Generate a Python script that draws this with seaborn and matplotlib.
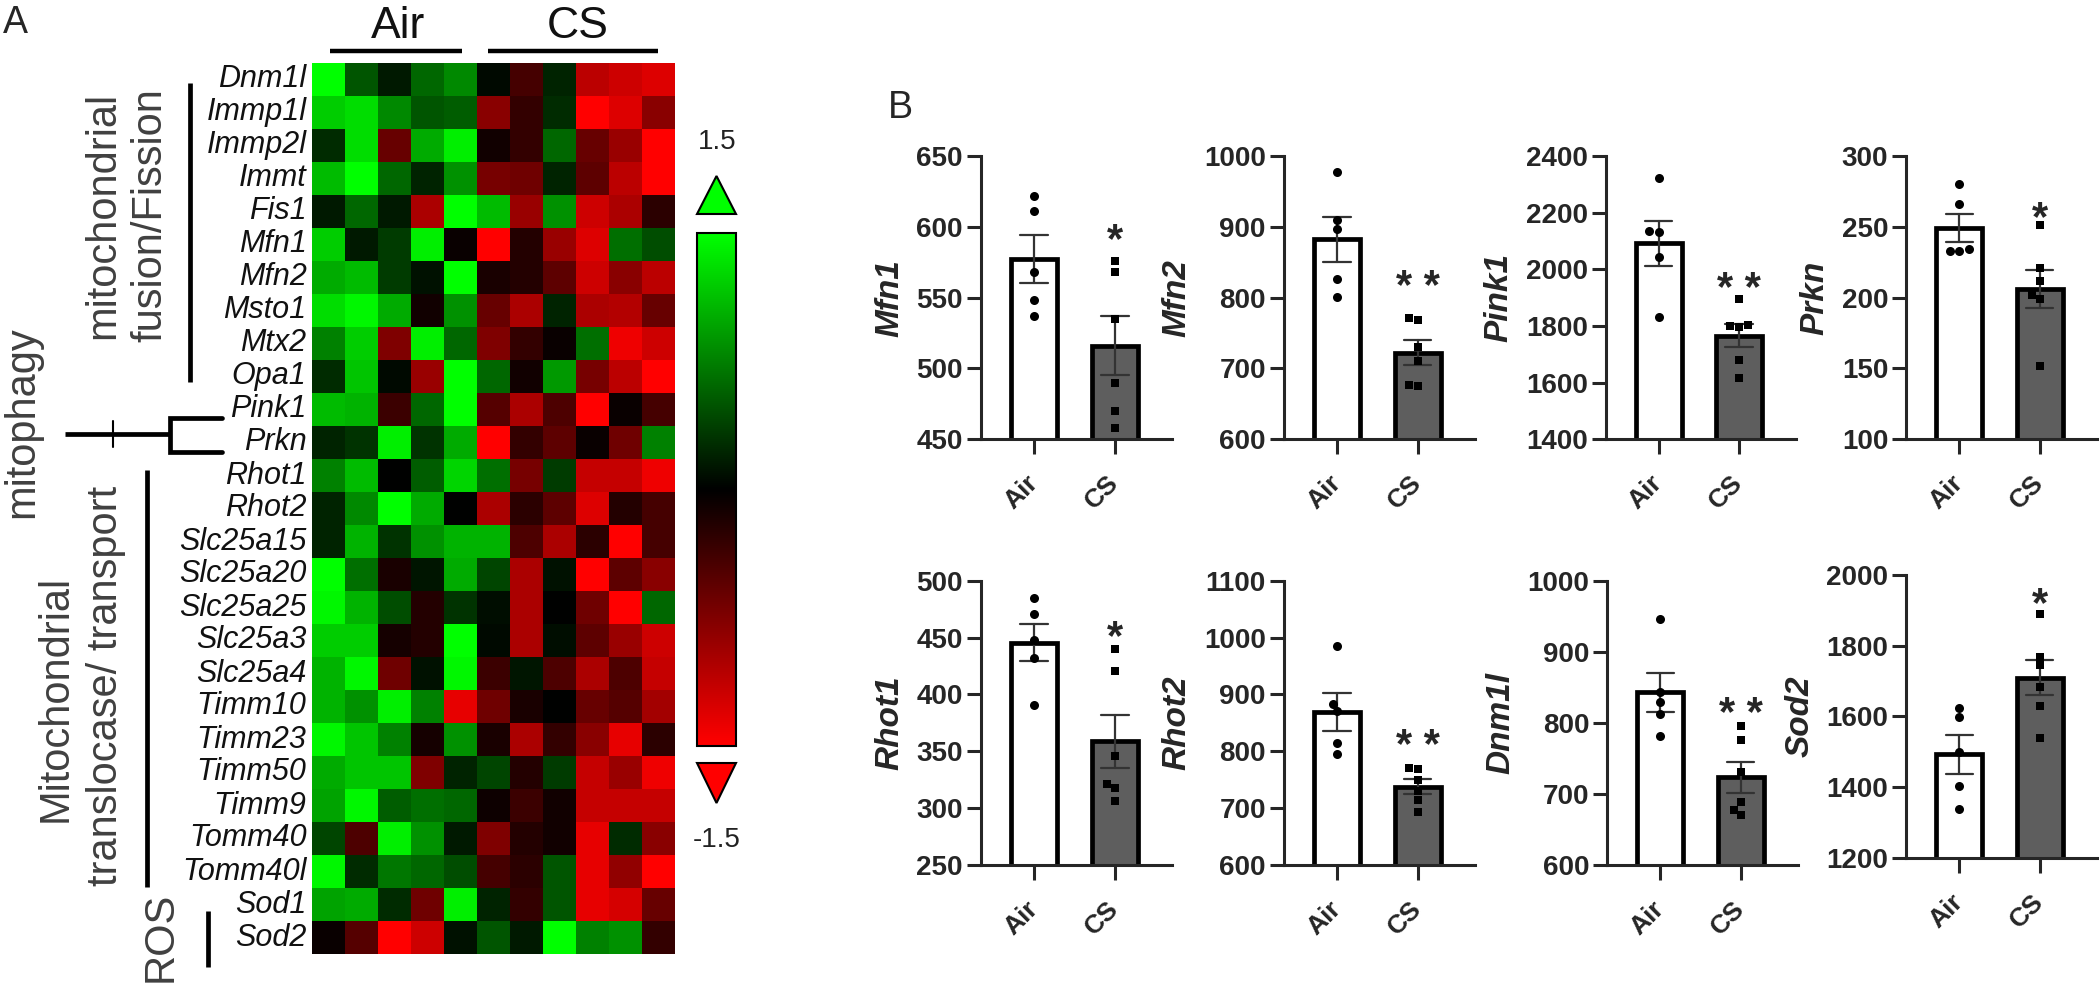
import numpy as np
import pandas as pd
import matplotlib
matplotlib.use("Agg")
import matplotlib.pyplot as plt
import seaborn as sns
from matplotlib.colors import LinearSegmentedColormap
from matplotlib.patches import Polygon

# ---------------- data: heatmap (z-scores) ----------------
genes = ["Dnm1l", "Immp1l", "Immp2l", "Immt", "Fis1", "Mfn1", "Mfn2", "Msto1", "Mtx2",
         "Opa1", "Pink1", "Prkn", "Rhot1", "Rhot2", "Slc25a15", "Slc25a20", "Slc25a25",
         "Slc25a3", "Slc25a4", "Timm10", "Timm23", "Timm50", "Timm9", "Tomm40", "Tomm40l",
         "Sod1", "Sod2"]
air_z = [
    [1.5, 0.5, 0.15, 0.6, 0.8],
    [1.2, 1.3, 0.8, 0.5, 0.55],
    [0.25, 1.3, -0.6, 1.0, 1.4],
    [1.1, 1.5, 0.6, 0.2, 0.85],
    [0.15, 0.6, 0.15, -1.0, 1.5],
    [1.2, 0.15, 0.35, 1.4, -0.05],
    [1.0, 1.1, 0.35, 0.1, 1.5],
    [1.3, 1.45, 1.0, -0.1, 0.85],
    [0.75, 1.2, -0.75, 1.4, 0.6],
    [0.25, 1.15, 0.05, -0.9, 1.5],
    [1.1, 1.05, -0.35, 0.6, 1.5],
    [0.2, 0.3, 1.4, 0.3, 1.0],
    [0.75, 1.1, 0.0, 0.55, 1.25],
    [0.2, 0.8, 1.5, 1.0, 0.0],
    [0.2, 1.05, 0.3, 0.85, 1.05],
    [1.5, 0.65, -0.15, 0.12, 1.0],
    [1.45, 1.05, 0.45, -0.2, 0.3],
    [1.2, 1.2, -0.12, -0.2, 1.5],
    [1.05, 1.45, -0.65, 0.1, 1.45],
    [1.05, 0.85, 1.4, 0.75, -1.35],
    [1.45, 1.15, 0.75, -0.12, 0.85],
    [1.0, 1.15, 1.15, -0.75, 0.2],
    [0.95, 1.45, 0.55, 0.65, 0.6],
    [0.4, -0.45, 1.4, 0.85, 0.15],
    [1.45, 0.25, 0.7, 0.6, 0.45],
    [0.95, 1.0, 0.25, -0.65, 1.4],
    [-0.05, -0.5, -1.5, -1.2, 0.1],
]
cs_z = [
    [0.05, -0.4, 0.2, -1.1, -1.2, -1.3],
    [-0.8, -0.3, 0.25, -1.5, -1.3, -0.8],
    [-0.1, -0.3, 0.6, -0.6, -0.9, -1.5],
    [-0.7, -0.65, 0.2, -0.55, -1.1, -1.5],
    [1.1, -0.9, 0.85, -1.2, -1.0, -0.25],
    [-1.5, -0.2, -0.9, -1.3, 0.65, 0.45],
    [-0.15, -0.2, -0.55, -1.2, -0.8, -1.1],
    [-0.6, -1.0, 0.2, -1.0, -1.05, -0.6],
    [-0.75, -0.3, -0.05, 0.65, -1.4, -1.2],
    [0.6, -0.1, 0.9, -0.7, -1.1, -1.5],
    [-0.5, -1.0, -0.45, -1.5, -0.05, -0.4],
    [-1.5, -0.3, -0.55, -0.05, -0.65, 0.75],
    [0.65, -0.7, 0.35, -1.15, -1.15, -1.4],
    [-1.0, -0.25, -0.55, -1.3, -0.2, -0.4],
    [1.05, -0.45, -1.0, -0.25, -1.5, -0.4],
    [0.4, -1.0, 0.1, -1.5, -0.55, -0.8],
    [0.08, -1.0, 0.0, -0.65, -1.5, 0.6],
    [0.05, -1.0, 0.08, -0.55, -0.9, -1.2],
    [-0.35, 0.12, -0.45, -1.0, -0.45, -1.15],
    [-0.65, -0.15, 0.0, -0.6, -0.5, -0.95],
    [-0.15, -1.0, -0.3, -0.8, -1.35, -0.25],
    [0.4, -0.2, 0.35, -1.15, -0.9, -1.4],
    [-0.08, -0.35, -0.1, -1.15, -1.15, -1.15],
    [-0.75, -0.2, -0.1, -1.35, 0.25, -0.8],
    [-0.4, -0.25, 0.5, -1.35, -0.85, -1.5],
    [0.2, -0.3, 0.5, -1.35, -1.25, -0.6],
    [0.5, 0.15, 1.5, 0.75, 0.85, -0.3],
]

# ---------------- data: bar charts ----------------
groups = ["Air", "CS"]
mfn1_air = [622, 611, 568, 548, 537]
mfn1_cs = [576, 568, 535, 490, 470, 458]
mfn2_air = [977, 910, 897, 826, 801]
mfn2_cs = [771, 769, 731, 710, 677, 675]
pink1_air = [2321, 2135, 2131, 2045, 1831]
pink1_cs = [1894, 1802, 1800, 1798, 1680, 1618]
prkn_air = [280, 266, 234, 233, 233]
prkn_cs = [251, 221, 212, 202, 199, 152]
rhot1_air = [485, 471, 448, 432, 391]
rhot1_cs = [440, 421, 346, 321, 318, 306]
rhot2_air = [985, 884, 870, 814, 795]
rhot2_cs = [771, 768, 750, 731, 714, 694]
dnm1l_air = [946, 844, 830, 812, 782]
dnm1l_cs = [795, 776, 731, 689, 678, 671]
sod2_air = [1625, 1599, 1500, 1404, 1337]
sod2_cs = [1889, 1769, 1745, 1684, 1630, 1540]

bar_genes = ["Mfn1", "Mfn2", "Pink1", "Prkn", "Rhot1", "Rhot2", "Dnm1l", "Sod2"]
bar_air = [mfn1_air, mfn2_air, pink1_air, prkn_air, rhot1_air, rhot2_air, dnm1l_air, sod2_air]
bar_cs = [mfn1_cs, mfn2_cs, pink1_cs, prkn_cs, rhot1_cs, rhot2_cs, dnm1l_cs, sod2_cs]
y_ranges = [(450, 650, 50), (600, 1000, 100), (1400, 2400, 200), (100, 300, 50),
            (250, 500, 50), (600, 1100, 100), (600, 1000, 100), (1200, 2000, 200)]
stars = ["*", "* *", "* *", "*", "*", "* *", "* *", "*"]
star_y = [599, 832, 1974, 265, 461, 831, 830, 1953]

# ---------------- figure ----------------
sns.set_theme(style="ticks")
plt.rcParams["font.family"] = ["Liberation Sans", "DejaVu Sans"]
W, H = 2100, 988
fig = plt.figure(figsize=(W / 100, H / 100), dpi=100)
fig.patch.set_facecolor("white")


def px_axes(l, t, r, b):
    return fig.add_axes([l / W, 1 - b / H, (r - l) / W, (b - t) / H])


# heatmap
hax = px_axes(312, 63, 675, 954)
cax = px_axes(697, 233, 736, 746)
cmap = LinearSegmentedColormap.from_list("rg", ["#ff0000", "#000000", "#00ff00"])
mat = pd.DataFrame(np.hstack([np.array(air_z), np.array(cs_z)]), index=genes)
sns.heatmap(mat, ax=hax, cmap=cmap, vmin=-1.5, vmax=1.5, cbar_ax=cax,
            xticklabels=False, yticklabels=genes, cbar_kws={"ticks": []})
hax.set_yticklabels(genes, rotation=0, fontsize=22, fontstyle="italic", color="#111111")
hax.tick_params(axis="y", length=0, pad=4)
hax.set_ylabel("")
cbar = hax.collections[0].colorbar
cbar.outline.set_linewidth(1.5)
cbar.outline.set_edgecolor("black")
cbar.set_ticks([])

# bar charts
boxes = [(980.6, 156, 1172.4, 439.3), (1283.9, 156, 1474.9, 439.3),
         (1605.7, 156, 1796.3, 439.3), (1906.3, 156, 2096.8, 439.3),
         (980.6, 580.7, 1172.4, 865), (1283.9, 580.7, 1474.9, 865),
         (1607.3, 580.7, 1797.9, 865), (1906.3, 575, 2096.8, 857.7)]
for i, g in enumerate(bar_genes):
    ax = px_axes(*boxes[i])
    df = pd.DataFrame({"group": ["Air"] * len(bar_air[i]) + ["CS"] * len(bar_cs[i]),
                       "value": bar_air[i] + bar_cs[i]})
    sns.barplot(data=df, x="group", y="value", order=groups, hue="group",
                hue_order=groups, palette=["white", "#5e5e5e"], legend=False,
                errorbar="se", capsize=0.34, width=0.57,
                err_kws={"linewidth": 1.6, "color": "#333333"},
                edgecolor="black", linewidth=3.4, ax=ax)
    sns.swarmplot(data=df[df.group == "Air"], x="group", y="value", order=groups,
                  color="black", marker="o", size=6.5, ax=ax)
    sns.swarmplot(data=df[df.group == "CS"], x="group", y="value", order=groups,
                  color="black", marker="s", size=6.0, ax=ax)
    lo, hi, st = y_ranges[i]
    ax.set_ylim(lo, hi)
    ax.set_yticks(np.arange(lo, hi + st / 2, st))
    ax.set_xlim(-0.658, 1.71)
    sns.despine(ax=ax)
    for s in ["left", "bottom"]:
        ax.spines[s].set_linewidth(2.2)
    ax.tick_params(axis="both", width=2.2, length=10, labelsize=20, pad=3)
    ax.tick_params(axis="x", length=11, pad=18)
    for lab in ax.get_yticklabels():
        lab.set_fontweight("bold")
    ax.set_xticks([0, 1])
    ax.set_xticklabels(groups, rotation=45, ha="right", va="center",
                       rotation_mode="anchor", fontsize=19, fontweight="bold")
    ax.set_xlabel("")
    ax.set_ylabel(g, fontsize=24, fontweight="bold", fontstyle="italic", labelpad=8)
    ax.patch.set_alpha(0)
    fs = 30
    ax.annotate(stars[i], xy=(1, star_y[i]), xytext=(0, -0.58 * fs),
                textcoords="offset points", ha="center", va="baseline",
                fontsize=fs, fontweight="bold")

# overlay for annotations (pixel coordinates)
ov = fig.add_axes([0, 0, 1, 1])
ov.set_xlim(0, W)
ov.set_ylim(H, 0)
ov.axis("off")
ov.patch.set_alpha(0)

gray = "#404040"
tk = dict(fontsize=30, color=gray, rotation=90, rotation_mode="anchor",
          ha="center", va="baseline")
ov.text(114, 215, "mitochondrial", **tk)
ov.text(161, 215, "fusion/Fission", **tk)
ov.text(33, 422, "mitophagy", **tk)
ov.text(67, 698, "Mitochondrial", **tk)
ov.text(117, 686, "translocase/ transport", **tk)
ov.text(172, 937, "ROS", **tk)

lw = 3.4
ov.plot([190, 190], [83, 382], color="black", lw=lw, solid_capstyle="butt")
ov.plot([147, 147], [470, 887], color="black", lw=lw, solid_capstyle="butt")
ov.plot([208, 208], [911, 967], color="black", lw=lw, solid_capstyle="butt")
ov.plot([65, 170], [434, 434], color="black", lw=lw, solid_capstyle="butt")
ov.plot([113, 113], [421, 447], color="black", lw=1.5)
ov.plot([222, 170, 170, 222], [418, 418, 452, 452], color="black", lw=lw,
        solid_joinstyle="miter")

# Air / CS headers
ov.text(398, 38, "Air", fontsize=32, ha="center", va="baseline", color="#111111")
ov.text(578, 38, "CS", fontsize=32, ha="center", va="baseline", color="#111111")
ov.plot([330, 462], [51, 51], color="black", lw=3.2, solid_capstyle="butt")
ov.plot([488, 658], [51, 51], color="black", lw=3.2, solid_capstyle="butt")

# colorbar triangles and labels
ov.add_patch(Polygon([(697, 214), (736, 214), (716.5, 176)], closed=True,
                     facecolor="#00ff00", edgecolor="black", lw=1.5))
ov.add_patch(Polygon([(697, 763), (736, 763), (716.5, 803)], closed=True,
                     facecolor="#ff0000", edgecolor="black", lw=1.5))
ov.text(717, 142, "1.5", fontsize=20, ha="center", va="center", color="#222222")
ov.text(717, 840, "-1.5", fontsize=20, ha="center", va="center", color="#222222")

# panel labels
ov.text(3, 5, "A", fontsize=27, ha="left", va="top")
ov.text(888, 90, "B", fontsize=27, ha="left", va="top")

fig.savefig("out.png", dpi=100, facecolor="white")
